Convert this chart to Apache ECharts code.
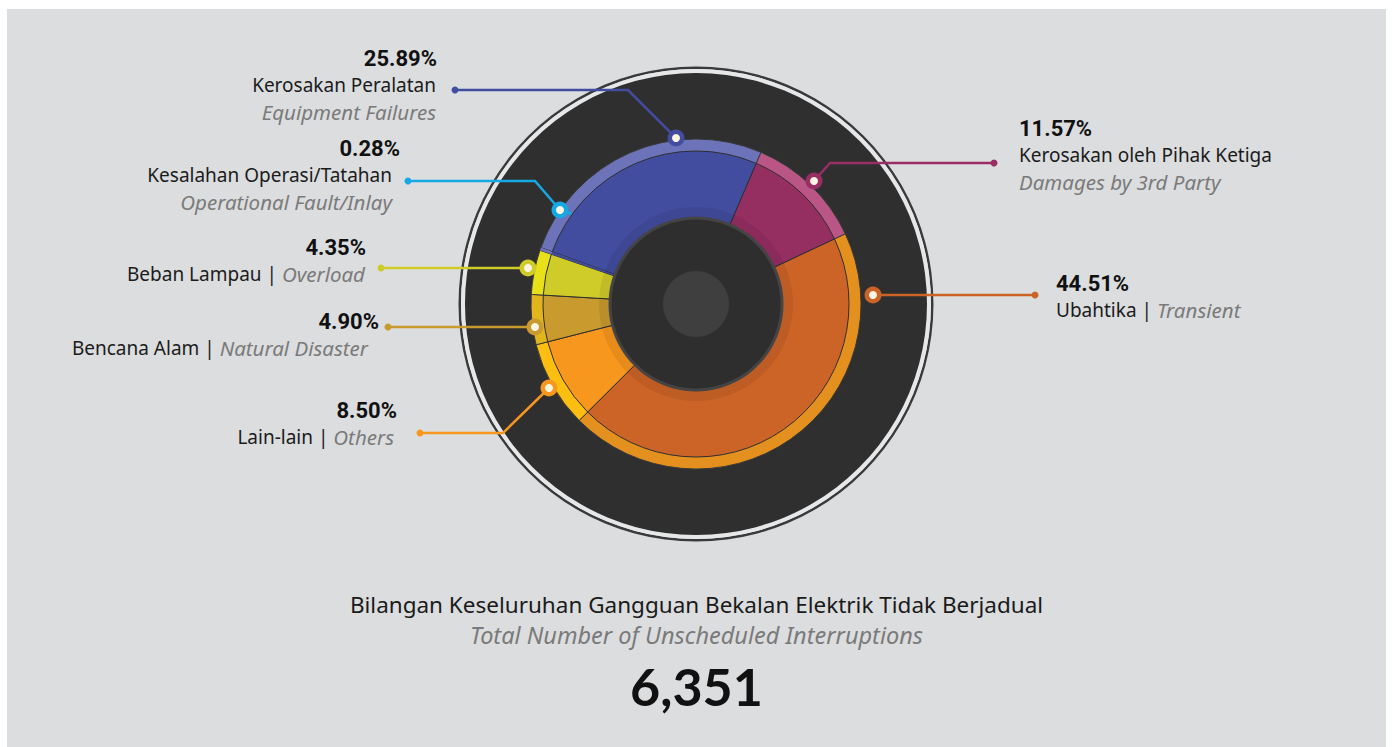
<!DOCTYPE html>
<html>
<head>
<meta charset="utf-8">
<title>Gangguan Bekalan Elektrik Tidak Berjadual</title>
<style>
    html, body { margin: 0; padding: 0; background: #fff; }
    #main { width: 1393px; height: 747px; }
</style>
</head>
<body>
<div id="main"></div>
<script src="https://cdn.jsdelivr.net/npm/echarts@6/dist/echarts.min.js"></script>
<script>
    // data, in slice order (clockwise)
    var namesMs = ['Kerosakan Peralatan', 'Kerosakan oleh Pihak Ketiga', 'Ubahtika', 'Lain-lain', 'Bencana Alam', 'Beban Lampau', 'Kesalahan Operasi/Tatahan'];
    var namesEn = ['Equipment Failures', 'Damages by 3rd Party', 'Transient', 'Others', 'Natural Disaster', 'Overload', 'Operational Fault/Inlay'];
    var percents = [25.89, 11.57, 44.51, 8.50, 4.90, 4.35, 0.28];
    var totalCount = 6351;
    var titleMs = 'Bilangan Keseluruhan Gangguan Bekalan Elektrik Tidak Berjadual';
    var titleEn = 'Total Number of Unscheduled Interruptions';

    // colours
    var sliceColors = ['#424da0', '#952f62', '#cc6428', '#f7971e', '#c99a2e', '#cfcb28', '#424da0'];
    var bandColors = ['#6c73b8', '#b95686', '#e3901f', '#fdbe12', '#e2b51d', '#e8e018', '#6c73b8'];
    var leaderColors = ['#424da0', '#9a2e64', '#cc6428', '#f7971e', '#c99a2e', '#cfcb28', '#16a8e2'];

    // callout layout (pixels)
    var inlineEn = [false, false, true, true, true, true, false];
    var labelAnchor = [[437, 45, 'right'], [1019, 115, 'left'], [1056, 270, 'left'], [397, 397, 'right'], [379, 308, 'right'], [366, 234, 'right'], [400, 135, 'right']];
    var nameInset = [1, 0, 0, 3, 11, 1, 8];
    var leaderPts = [
        [[676, 138], [628, 90], [455, 90]],
        [[814, 181], [830, 163], [994, 163]],
        [[873, 295], [954, 295], [1035, 295]],
        [[549, 388], [503, 433], [420, 433]],
        [[535, 327], [460, 327], [388, 327]],
        [[528, 268], [455, 268], [381, 268]],
        [[641, 237], [560, 210], [535, 181], [408, 181]]
    ];
    var markerIdx = [0, 0, 0, 0, 0, 0, 1];

    var CX = 696, CY = 304;
    var FONT = '"Noto Sans", Lato, sans-serif';
    var PCT_FONT = 'Roboto, sans-serif';

    function labelText(i) {
        var pct = '{p|' + percents[i].toFixed(2) + '%}';
        if (inlineEn[i]) {
            return pct + '\n{n|' + namesMs[i] + ' | }{e|' + namesEn[i] + '}';
        }
        return pct + '\n{n|' + namesMs[i] + '}\n{e|' + namesEn[i] + '}';
    }

    var mainData = [], bandData = [];
    for (var i = 0; i < percents.length; i++) {
        var pad = [0, nameInset[i], 0, 0];
        var tiny = sliceColors[i] === sliceColors[0] && i > 0;
        mainData.push({
            name: namesMs[i],
            value: percents[i],
            itemStyle: { color: sliceColors[i], borderWidth: tiny ? 0 : 1 },
            label: {
                formatter: labelText(i),
                rich: {
                    n: { padding: inlineEn[i] ? 0 : pad },
                    e: { padding: pad }
                }
            },
            labelLine: { lineStyle: { color: leaderColors[i] } }
        });
        bandData.push({ name: namesMs[i], value: percents[i], itemStyle: { color: bandColors[i], borderWidth: tiny ? 0 : 1 } });
    }

    function disk(r, color, z) {
        return {
            type: 'pie', center: [CX, CY], radius: r, z: z, silent: true,
            label: { show: false }, labelLine: { show: false },
            emphasis: { disabled: true },
            itemStyle: { color: color },
            data: [{ value: 1 }]
        };
    }

    // marker dots
    var dots = [];
    for (var k = 0; k < leaderPts.length; k++) {
        var pts = leaderPts[k];
        var end = pts[pts.length - 1];
        var m = pts[markerIdx[k]];
        dots.push({ type: 'circle', z: 50, shape: { cx: end[0], cy: end[1], r: 3.5 }, style: { fill: leaderColors[k] } });
        dots.push({ type: 'circle', z: 50, shape: { cx: m[0], cy: m[1], r: 8.5 }, style: { fill: leaderColors[k] } });
        dots.push({ type: 'circle', z: 51, shape: { cx: m[0], cy: m[1], r: 4 }, style: { fill: '#fdf5e4' } });
    }

    var option = {
        backgroundColor: '#ffffff',
        animation: false,
        title: [
            {
                text: titleMs,
                subtext: titleEn,
                left: 'center',
                top: 588,
                itemGap: 7,
                textStyle: { fontFamily: FONT, fontSize: 22.5, fontWeight: 'normal', color: '#1a1a1a' },
                subtextStyle: { fontFamily: FONT, fontSize: 23.5, fontStyle: 'italic', color: '#7a7a7a' }
            },
            {
                text: totalCount.toLocaleString('en-US'),
                left: 'center',
                top: 655,
                textStyle: { fontFamily: 'Lato, sans-serif', fontSize: 52, fontWeight: 'bold', color: '#111' }
            }
        ],
        graphic: [
            { type: 'rect', z: -100, silent: true, shape: { x: 7, y: 9, width: 1379, height: 738 }, style: { fill: '#dcdddf' } }
        ].concat(dots),
        series: [
            disk([235, 237.5], '#3a3a3a', 1),
            disk([231, 235], '#e6e7e8', 1),
            disk([0, 231], '#2f2f2f', 1),
            {
                // lighter outer band
                type: 'pie', center: [CX, CY], radius: [150, 165], z: 2, silent: true,
                startAngle: 160,
                label: { show: false }, labelLine: { show: false },
                emphasis: { disabled: true },
                itemStyle: { borderColor: '#3a3a3a' },
                data: bandData
            },
            {
                type: 'pie', center: [CX, CY], radius: [86, 153], z: 3, silent: true,
                startAngle: 160,
                avoidLabelOverlap: false,
                emphasis: { disabled: true },
                itemStyle: { borderColor: '#2f2f2f' },
                label: {
                    show: true,
                    position: 'outside',
                    rich: {
                        p: { fontFamily: PCT_FONT, fontWeight: 'bold', fontSize: 22, color: '#111', lineHeight: 26 },
                        n: { fontFamily: FONT, fontSize: 19, color: '#1b1b1b', lineHeight: 27 },
                        e: { fontFamily: FONT, fontSize: 20.5, fontStyle: 'italic', color: '#7a7a7a', lineHeight: 27 }
                    }
                },
                labelLine: { show: true, smooth: false, lineStyle: { width: 2.5 } },
                labelLayout: function (params) {
                    var a = labelAnchor[params.dataIndex];
                    return {
                        x: a[0], y: a[1], align: a[2], verticalAlign: 'top',
                        labelLinePoints: leaderPts[params.dataIndex]
                    };
                },
                data: mainData
            },
            disk([86, 97], 'rgba(0,0,0,0.07)', 3),
            disk([84, 87.5], '#444444', 3),
            disk([0, 84.5], '#2e2e2e', 3),
            disk([0, 33], '#3f3f3f', 3)
        ]
    };

    var myChart = echarts.init(document.getElementById('main'), null, { renderer: 'svg' });
    myChart.setOption(option);
</script>
</body>
</html>
